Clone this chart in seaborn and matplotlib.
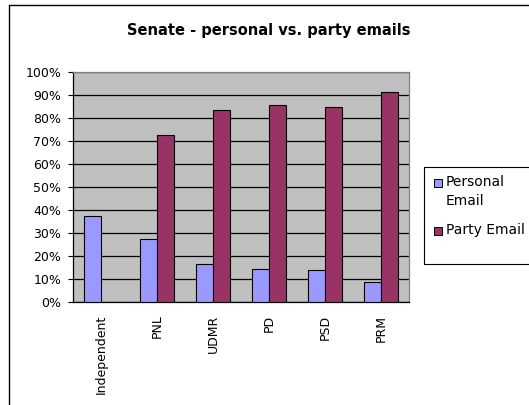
import pandas as pd
import numpy as np
import matplotlib
matplotlib.use('Agg')
import matplotlib.pyplot as plt
import seaborn as sns
from matplotlib.ticker import PercentFormatter, FixedLocator
from matplotlib.patches import Rectangle
from matplotlib.lines import Line2D

# data
parties = ['Independent', 'PNL', 'UDMR', 'PD', 'PSD', 'PRM']
personal_email = [37.5, 27.2, 16.4, 14.3, 13.9, 8.6]
party_email = [np.nan, 72.6, 83.5, 85.6, 84.6, 91.3]
series_names = ['Personal Email', 'Party Email']
colors = ['#9999FF', '#993366']

df = pd.DataFrame({
    'party': parties * 2,
    'series': [series_names[0]] * len(parties) + [series_names[1]] * len(parties),
    'value': personal_email + party_email,
}).dropna()

sns.set_style('white')
plt.rcParams['font.family'] = ['DejaVu Sans']
plt.rcParams['text.color'] = 'black'
plt.rcParams['xtick.color'] = 'black'
plt.rcParams['ytick.color'] = 'black'
plt.rcParams['xtick.labelcolor'] = 'black'
plt.rcParams['ytick.labelcolor'] = 'black'

W, H = 529, 405
fig = plt.figure(figsize=(W / 100, H / 100), dpi=100, facecolor='white')


def fx(px):
    return px / W


def fy(py):
    return 1 - py / H


ax = fig.add_axes([fx(73), fy(302), fx(336), 230 / H])
ax.set_facecolor('#C0C0C0')

sns.barplot(data=df, x='party', y='value', hue='series', order=parties,
            hue_order=series_names, palette=colors, width=0.6, saturation=1,
            edgecolor='black', linewidth=0.8, ax=ax, legend=False, zorder=3)

ax.set_ylim(0, 100)
ax.set_xlim(-0.5, len(parties) - 0.5)
ax.yaxis.set_major_locator(FixedLocator(np.arange(0, 101, 10)))
ax.yaxis.set_major_formatter(PercentFormatter(decimals=0))
ax.grid(axis='y', color='black', linewidth=0.9, zorder=1)
ax.set_axisbelow(True)
ax.set_xlabel('')
ax.set_ylabel('')

ax.set_xticks(range(len(parties)))
ax.set_xticklabels(parties, rotation=90, fontsize=9)
ax.tick_params(axis='x', which='major', length=0, pad=9)
ax.set_xticks(np.arange(-0.5, len(parties), 1), minor=True)
ax.tick_params(axis='x', which='minor', length=3.5, width=0.8, color='black', direction='out')
ax.tick_params(axis='y', length=3.5, width=0.8, color='black', direction='out',
               labelsize=9, left=True, pad=5)

for side in ['left', 'bottom']:
    ax.spines[side].set_color('black')
    ax.spines[side].set_linewidth(0.9)
for side in ['top', 'right']:
    ax.spines[side].set_color('#808080')
    ax.spines[side].set_linewidth(0.9)

fig.text(fx(269), fy(31), 'Senate - personal vs. party emails',
         ha='center', va='center', fontsize=10.5, fontweight='bold', color='black')

# legend box (Excel style, handle aligned with first text line)
fig.patches.append(Rectangle((fx(424), fy(264)), fx(120), (264 - 167) / H,
                             transform=fig.transFigure, facecolor='white',
                             edgecolor='black', linewidth=0.8))
legend_rows = [(series_names[0].replace(' ', '\n'), 179), (series_names[1], 227)]
for (label, top), c in zip(legend_rows, colors):
    fig.patches.append(Rectangle((fx(434), fy(top + 8)), fx(8), 8 / H,
                                 transform=fig.transFigure, facecolor=c,
                                 edgecolor='black', linewidth=0.7))
    fig.text(fx(446), fy(top - 4), label, ha='left', va='top', fontsize=10,
             linespacing=1.5, color='black')

# outer chart border (right and bottom edges are cropped in the reference)
fig.lines.append(Line2D([fx(9), fx(9)], [-0.01, fy(5)], transform=fig.transFigure,
                        color='black', linewidth=1.0))
fig.lines.append(Line2D([fx(9), 1.01], [fy(5), fy(5)], transform=fig.transFigure,
                        color='black', linewidth=1.0))

fig.savefig('out.png', dpi=100, facecolor='white')
plt.close(fig)
